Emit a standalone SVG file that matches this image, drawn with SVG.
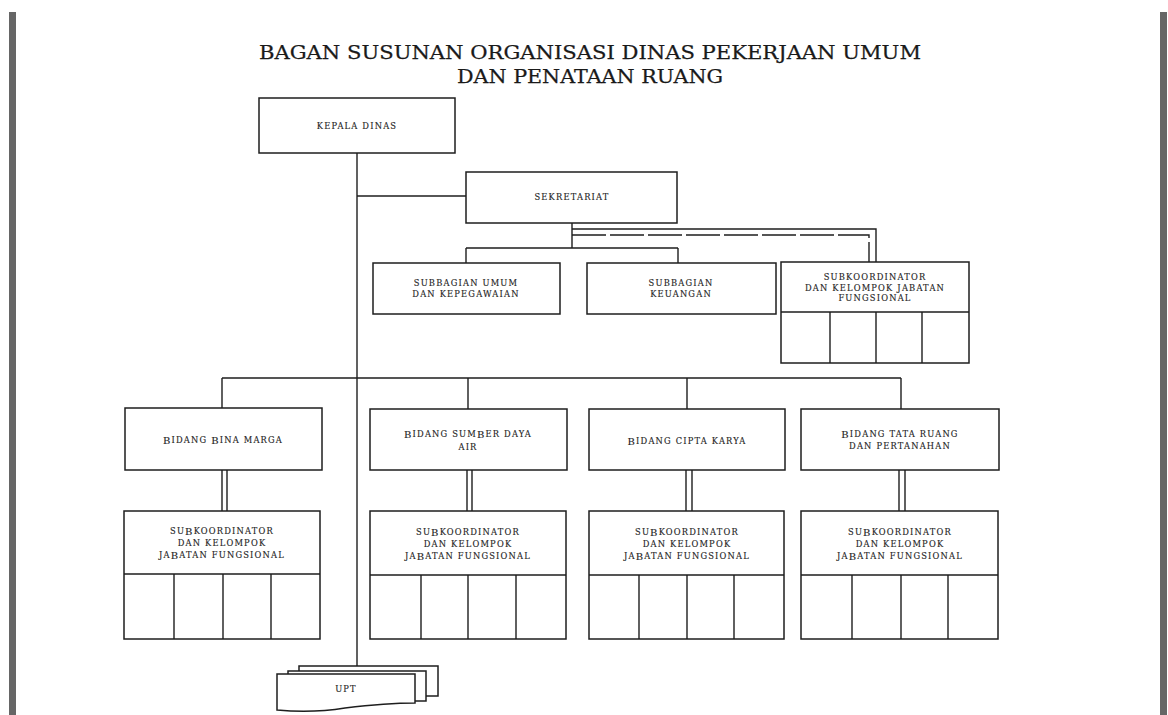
<svg xmlns="http://www.w3.org/2000/svg" width="1168" height="715" viewBox="0 0 1168 715">
<style>
.box{fill:#fff;stroke:#1e1e1e;stroke-width:1.5}
.ln{fill:none;stroke:#1e1e1e;stroke-width:1.4}
.dash{fill:none;stroke:#1e1e1e;stroke-width:1.4;stroke-dasharray:34 4}
.t{font-family:"DejaVu Serif","Liberation Serif",serif;font-size:8.3px;letter-spacing:1.2px;fill:#1f1f1f;stroke:#1f1f1f;stroke-width:0.15;text-anchor:middle;dominant-baseline:central}
.cap{font-size:10px}
.title{font-family:"DejaVu Serif","Liberation Serif",serif;font-size:18px;fill:#1a1a1a;stroke:#1a1a1a;stroke-width:0.25;text-anchor:middle}
.bar{fill:#666}
</style>
<rect x="0" y="0" width="1168" height="715" fill="#fff"/>
<rect class="bar" x="9" y="12" width="7" height="703"/>
<rect class="bar" x="1160" y="12" width="7" height="703"/>

<g id="title">
<text class="title" x="590" y="59" textLength="662" lengthAdjust="spacingAndGlyphs">BAGAN SUSUNAN ORGANISASI DINAS PEKERJAAN UMUM</text>
<text class="title" x="590" y="83" textLength="266" lengthAdjust="spacingAndGlyphs">DAN PENATAAN RUANG</text>
</g>

<g id="connectors">
<path class="ln" d="M357,153 V666"/>
<path class="ln" d="M357,196 H466"/>
<path class="ln" d="M572,223 V248 M466,248 H678 M466,248 V263 M678,248 V263"/>
<path class="ln" d="M572,229 H876 V262"/>
<path class="dash" d="M572,235 H869 V262"/>
<path class="ln" d="M222,378 H901 M222,378 V408 M468,378 V409 M687,378 V409 M901,378 V409"/>
<path class="ln" d="M222,470 V511 M227,470 V511"/>
<path class="ln" d="M467,470 V511 M472,470 V511"/>
<path class="ln" d="M686,470 V511 M692,470 V511"/>
<path class="ln" d="M899,470 V511 M905,470 V511"/>
</g>

<g id="kepala-dinas">
<rect class="box" x="259" y="98" width="196" height="55"/>
<text class="t" x="357" y="126">KEPALA DINAS</text>
</g>

<g id="sekretariat">
<rect class="box" x="466" y="172" width="211" height="51"/>
<text class="t" x="572" y="197">SEKRETARIAT</text>
</g>

<g id="subbagian-umum">
<rect class="box" x="373" y="263" width="187" height="51"/>
<text class="t" x="466" y="283">SUBBAGIAN UMUM</text>
<text class="t" x="466" y="294">DAN KEPEGAWAIAN</text>
</g>

<g id="subbagian-keuangan">
<rect class="box" x="587" y="263" width="189" height="51"/>
<text class="t" x="681" y="283">SUBBAGIAN</text>
<text class="t" x="681" y="294">KEUANGAN</text>
</g>

<g id="subkoordinator-sekretariat">
<rect class="box" x="781" y="262" width="188" height="101"/>
<path class="ln" d="M781,312 H969 M830,312 V363 M876,312 V363 M922,312 V363"/>
<text class="t" x="875" y="277">SUBKOORDINATOR</text>
<text class="t" x="875" y="288">DAN KELOMPOK JABATAN</text>
<text class="t" x="875" y="298">FUNGSIONAL</text>
</g>

<g id="bidang-bina-marga">
<rect class="box" x="125" y="408" width="197" height="62"/>
<text class="t" x="223" y="440"><tspan class="cap">B</tspan>IDANG <tspan class="cap">B</tspan>INA MARGA</text>
</g>

<g id="bidang-sumber-daya-air">
<rect class="box" x="370" y="409" width="197" height="61"/>
<text class="t" x="468" y="434"><tspan class="cap">B</tspan>IDANG SUM<tspan class="cap">B</tspan>ER DAYA</text>
<text class="t" x="468" y="447">AIR</text>
</g>

<g id="bidang-cipta-karya">
<rect class="box" x="589" y="409" width="196" height="61"/>
<text class="t" x="687" y="441"><tspan class="cap">B</tspan>IDANG CIPTA KARYA</text>
</g>

<g id="bidang-tata-ruang">
<rect class="box" x="801" y="409" width="198" height="61"/>
<text class="t" x="900" y="434"><tspan class="cap">B</tspan>IDANG TATA RUANG</text>
<text class="t" x="900" y="446">DAN PERTANAHAN</text>
</g>

<g id="subkoordinator-bina-marga">
<rect class="box" x="124" y="511" width="196" height="128"/>
<path class="ln" d="M124,574 H320 M174,574 V639 M223,574 V639 M271,574 V639"/>
<text class="t" x="222" y="531">SU<tspan class="cap">B</tspan>KOORDINATOR</text>
<text class="t" x="222" y="543">DAN KELOMPOK</text>
<text class="t" x="222" y="555">JA<tspan class="cap">B</tspan>ATAN FUNGSIONAL</text>
</g>

<g id="subkoordinator-sumber-daya-air">
<rect class="box" x="370" y="511" width="196" height="128"/>
<path class="ln" d="M370,575 H566 M421,575 V639 M468,575 V639 M516,575 V639"/>
<text class="t" x="468" y="532">SU<tspan class="cap">B</tspan>KOORDINATOR</text>
<text class="t" x="468" y="544">DAN KELOMPOK</text>
<text class="t" x="468" y="556">JA<tspan class="cap">B</tspan>ATAN FUNGSIONAL</text>
</g>

<g id="subkoordinator-cipta-karya">
<rect class="box" x="589" y="511" width="195" height="128"/>
<path class="ln" d="M589,575 H784 M639,575 V639 M687,575 V639 M734,575 V639"/>
<text class="t" x="687" y="532">SU<tspan class="cap">B</tspan>KOORDINATOR</text>
<text class="t" x="687" y="544">DAN KELOMPOK</text>
<text class="t" x="687" y="556">JA<tspan class="cap">B</tspan>ATAN FUNGSIONAL</text>
</g>

<g id="subkoordinator-tata-ruang">
<rect class="box" x="801" y="511" width="197" height="128"/>
<path class="ln" d="M801,575 H998 M852,575 V639 M901,575 V639 M948,575 V639"/>
<text class="t" x="900" y="532">SU<tspan class="cap">B</tspan>KOORDINATOR</text>
<text class="t" x="900" y="544">DAN KELOMPOK</text>
<text class="t" x="900" y="556">JA<tspan class="cap">B</tspan>ATAN FUNGSIONAL</text>
</g>

<g id="upt">
<rect class="box" x="299" y="666" width="139" height="30"/>
<rect class="box" x="288" y="671" width="138" height="30"/>
<path class="box" d="M277,674 H415 V703 C395,703 370,705 345,708 C320,712 300,712 277,710 Z"/>
<text class="t" x="346" y="689">UPT</text>
</g>
</svg>
